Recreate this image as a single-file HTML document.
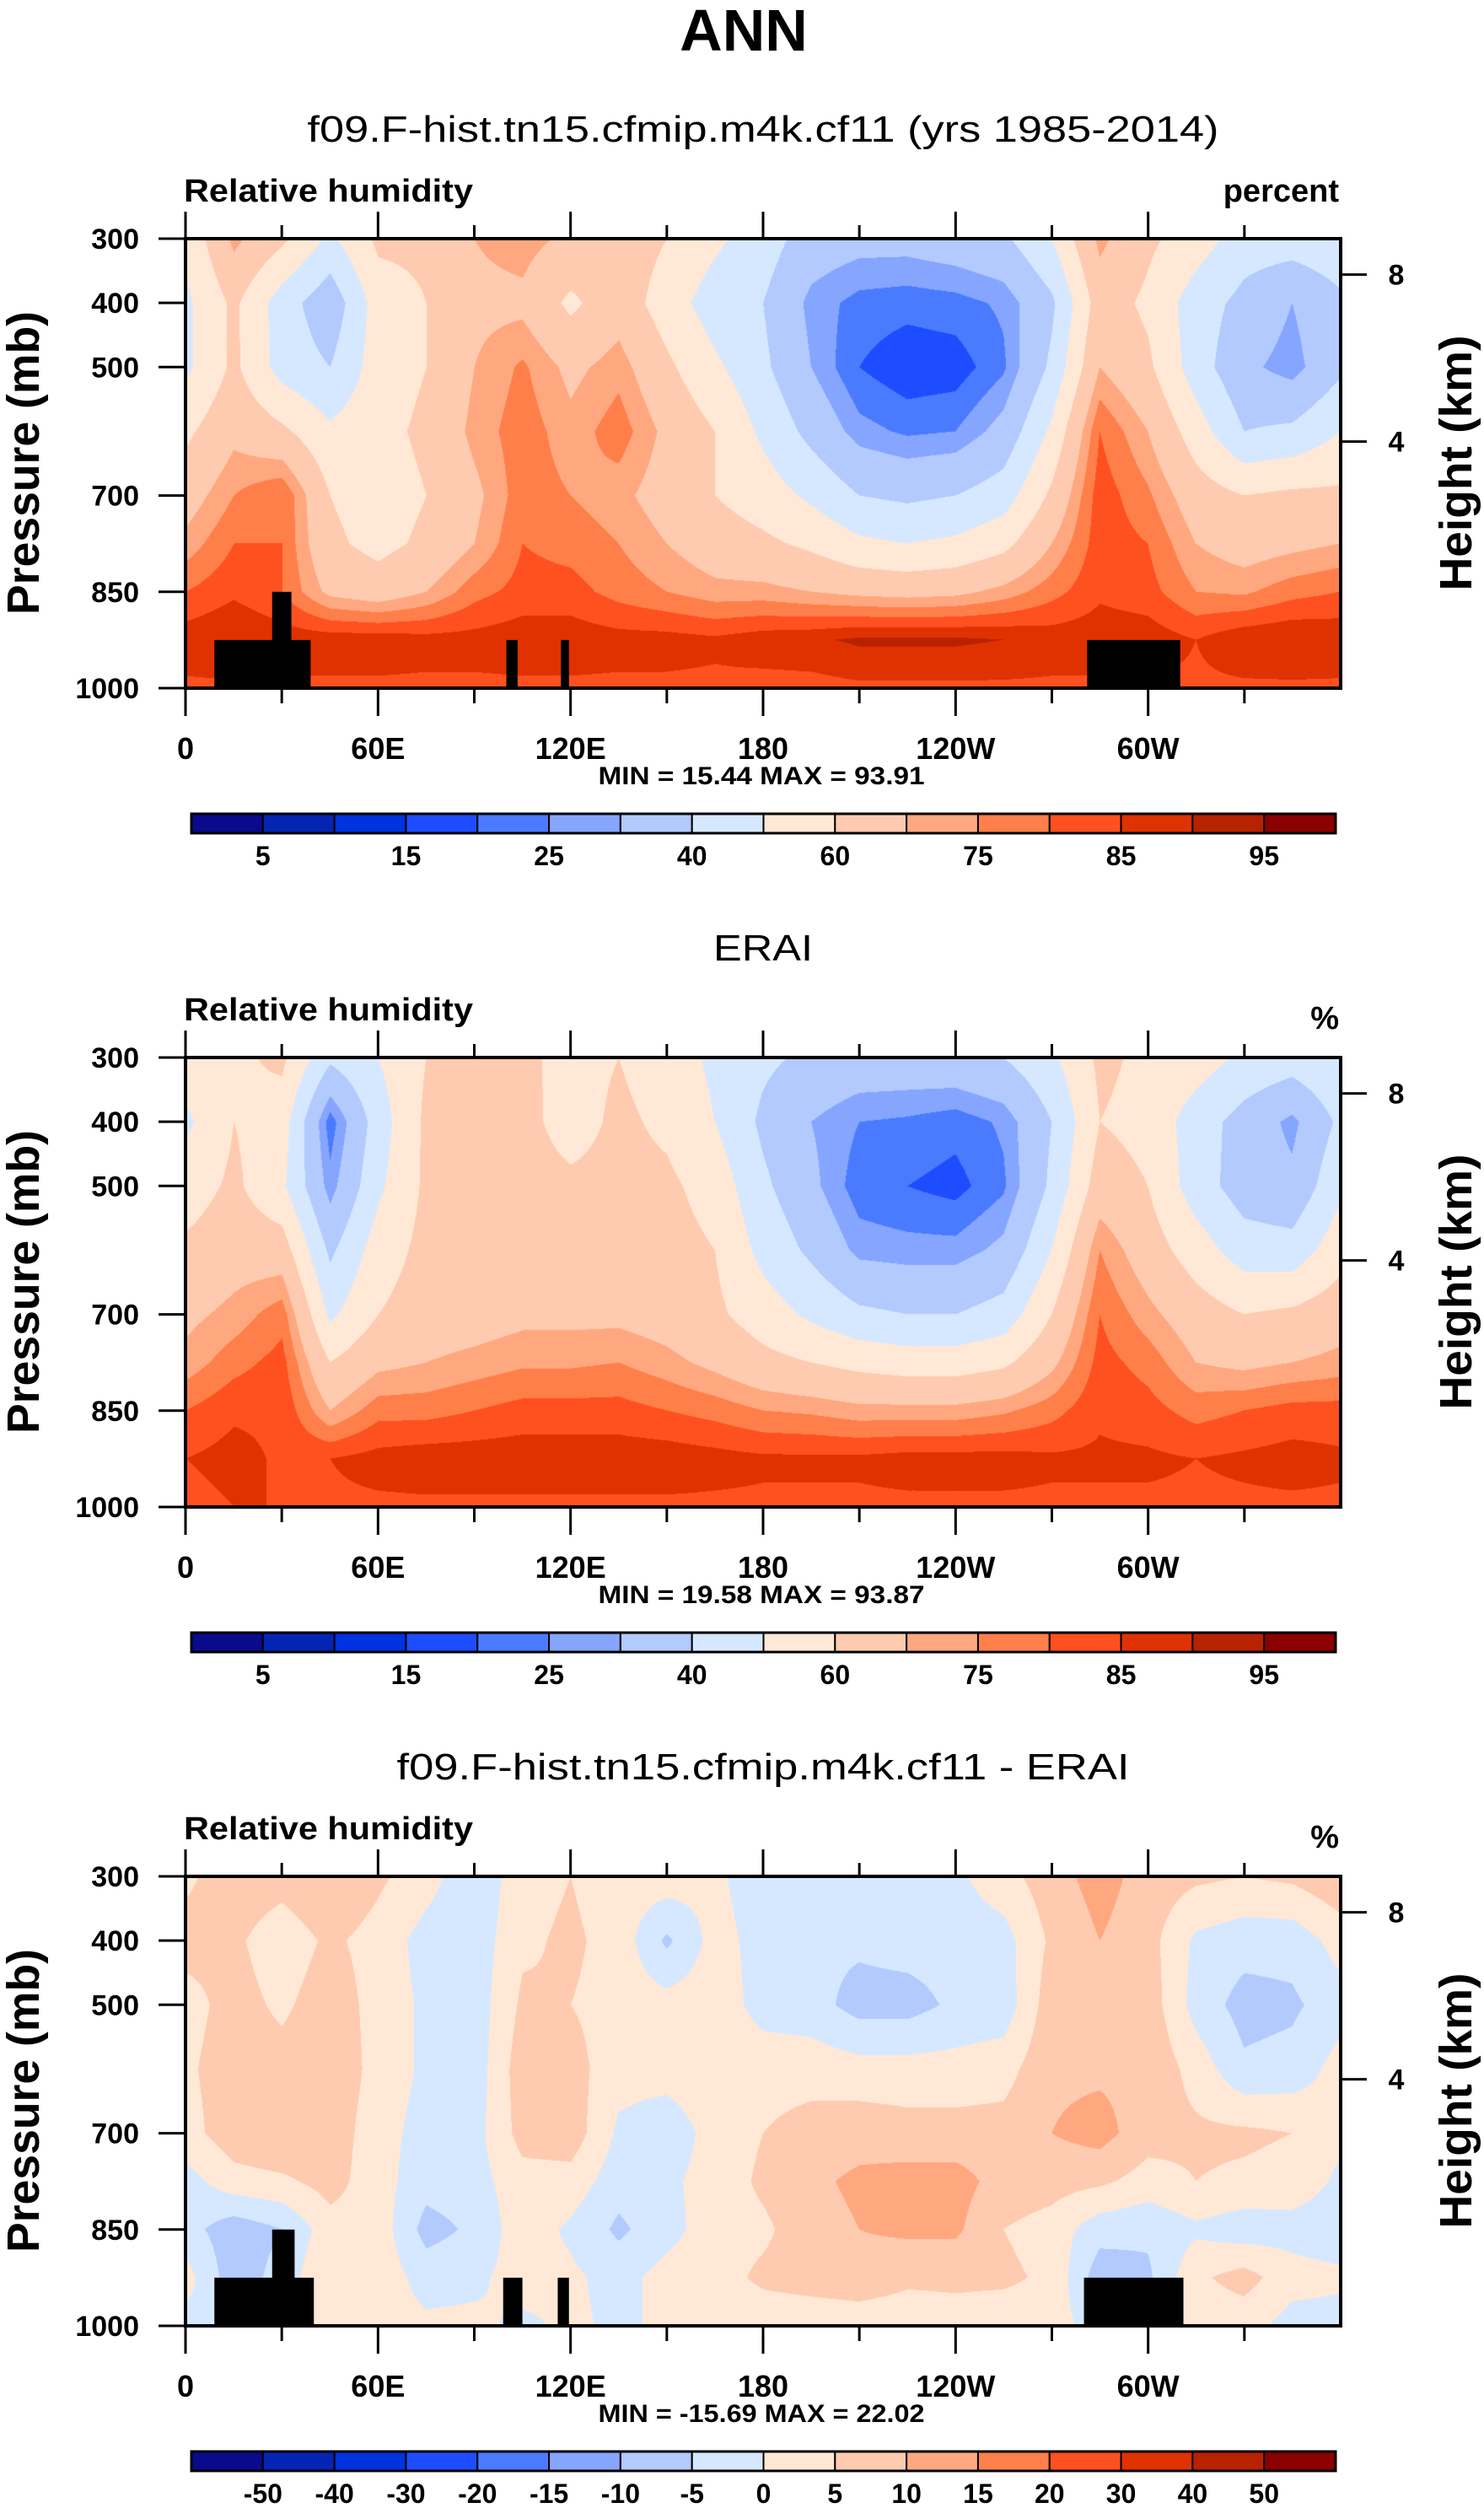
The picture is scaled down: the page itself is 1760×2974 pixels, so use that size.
<!DOCTYPE html>
<html><head><meta charset="utf-8"><style>
html,body{margin:0;padding:0;background:#fff;}
#wrap{position:relative;width:1760px;height:2974px;overflow:hidden;background:#fff;}
canvas{position:absolute;}
svg{position:absolute;left:0;top:0;}
text{font-family:"Liberation Sans",sans-serif;fill:#000;}
</style></head><body>
<div id="wrap">
<canvas id="c0" width="1370" height="533" style="left:220px;top:283px"></canvas>
<canvas id="c1" width="1370" height="533" style="left:220px;top:1254px"></canvas>
<canvas id="c2" width="1370" height="533" style="left:220px;top:2225px"></canvas>
<svg id="s" width="1760" height="2974"></svg>
</div>
<script>
// ---- data ----
const lons = [0,15,30,45,60,75,90,105,120,135,150,165,180,195,210,225,240,255,270,285,300,315,330,345,360];
const levels = [300,400,500,600,700,775,850,925,1000];
const lonTicks = [0,60,120,180,240,300];
const lonTickLabels = ["0","60E","120E","180","120W","60W"];
const presTicks = [300,400,500,700,850,1000];
const heightTicks = [{p:356,lab:"8"},{p:616,lab:"4"}];
const rhLevels = [5,10,15,20,25,30,40,50,60,70,75,80,85,90,95];
const rhLabels = ["5","15","25","40","60","75","85","95"];
const diffLevels = [-50,-40,-30,-20,-15,-10,-5,0,5,10,15,20,30,40,50];
const diffLabels = ["-50","-40","-30","-20","-15","-10","-5","0","5","10","15","20","30","40","50"];
const colors = ["#0a0a8c","#0424b4","#0032e0","#1e4dff","#4a7bff","#85a5ff","#b3caff","#d6e8ff","#ffe9d6","#ffcbb0","#ffa880","#ff7f4a","#ff5020","#e03200","#b82200","#8b0000"];
// values per lon column: [300,400,500,600,700,775,850,925,1000]
const modelRH = [
[52,48,48,58,66,72,80,88,84],[72,62,62,68,75,80,84,90,84],[62,45,46,62,80,80,80,88,84],[48,33,40,52,60,62,68,88,84],
[62,55,55,57,55,57,65,88,84],[62,60,60,62,60,62,70,87,84],[70,68,70,72,68,70,78,87,84],[73,68,76,78,78,80,82,88,84],
[68,58,68,72,75,78,82,88,84],[66,66,73,78,72,75,78,87,84],[60,55,62,68,66,70,75,87,84],[52,45,52,60,60,65,72,86,84],
[45,40,42,48,55,62,72,88,83],[35,28,30,37,48,58,70,89,83],[33,23,20,27,40,52,68,91,84],[33,22,16,24,38,50,67,91,84],
[35,23,17,25,40,52,68,91,84],[38,26,24,33,45,57,72,90,84],[50,38,42,52,62,70,78,88,84],[72,65,70,80,83,83,84,88,84],
[62,58,62,70,76,80,82,88,84],[55,45,45,55,65,70,75,85,84],[45,37,32,40,60,66,74,89,84],[45,30,27,42,62,68,78,90,84],
[47,38,38,50,62,70,80,89,84]];
const eraiRH = [
[55,48,55,62,68,72,80,85,83],[58,60,62,66,72,78,84,87,85],[62,55,52,65,78,82,84,84,85],[42,22,27,38,48,60,70,85,84],
[50,45,48,55,60,68,78,87,84],[60,62,62,63,65,70,78,88,84],[62,63,64,65,66,72,80,88,84],[62,63,64,66,68,74,82,88,84],
[57,56,62,65,68,74,82,88,84],[60,62,63,65,68,75,82,88,84],[55,58,62,64,66,72,80,88,84],[48,50,56,60,62,68,78,87,84],
[42,38,42,47,55,63,75,86,84],[38,30,32,38,48,60,74,86,84],[36,25,22,28,42,57,72,86,84],[36,24,20,27,40,55,72,87,84],
[37,22,18,27,40,55,72,87,84],[40,26,24,32,44,58,74,87,84],[48,40,42,50,60,68,78,86,84],[62,60,65,75,80,82,84,86,84],
[58,57,60,65,72,78,82,86,84],[55,45,45,55,65,70,78,85,84],[48,36,35,45,60,68,80,86,84],[45,28,32,44,62,70,82,87,84],
[50,42,48,56,66,72,82,86,84]];
const diffRH = [
[4,7,3,4,3,-2,-3,2,-2],[8,6,7,8,8,3,-8,-8,2],[7,2,4,7,10,4,-5,-3,2],[10,6,8,9,8,7,3,5,2],
[6,3,3,3,2,2,3,3,2],[2,-2,-1,-1,-2,-3,-7,-2,1],[-4,-3,-3,-3,-2,-2,-4,-1,1],[3,4,6,8,7,3,3,2,-1],
[5,6,5,7,8,3,-1,1,1],[2,3,3,2,-1,-3,-6,-2,-1],[3,-6,2,2,-3,-1,-2,2,1],[1,2,3,3,2,2,3,3,2],
[-3,-2,-2,3,5,6,4,6,2],[-2,-4,-3,3,7,9,8,7,2],[-3,-4,-7,2,8,11,10,8,2],[-2,-3,-7,2,7,12,11,6,2],
[-1,-3,-4,2,7,12,11,6,3],[3,-2,-3,3,7,8,5,6,2],[8,6,8,9,10,7,3,4,2],[12,10,8,9,12,6,-3,-8,-2],
[8,7,8,9,7,3,-4,-6,-2],[6,-1,-2,3,6,5,-1,4,2],[5,-3,-7,-4,6,4,-3,7,2],[6,-3,-6,-3,5,3,-2,2,-2],
[9,2,-2,2,1,-1,-3,1,-2]];
// topography masks: [lonStart, lonEnd, pressureTop]
const maskModel = [[9,39,925],[27,33,850],[100,103.5,925],[117,119.5,925],[281,310,925]];
const maskDiff = [[9,40,925],[27,34,850],[99,105,925],[116,119.5,925],[280,311,925]];
const maskErai = [];

// ---- layout ----
const PX=220, PW=1370, PH=533;
const tops=[283,1254,2225];
const xOf = lon => PX + lon/360*PW;
const yOf = (p,top) => top + (p-300)/700*PH;

function hexRGB(h){return [parseInt(h.substr(1,2),16),parseInt(h.substr(3,2),16),parseInt(h.substr(5,2),16)];}
const rgb = colors.map(hexRGB);
function classify(v,lv){let i=0;while(i<lv.length&&v>=lv[i])i++;return i;}

function drawField(id,data,lv){
  const cv=document.getElementById(id),ctx=cv.getContext('2d');
  const img=ctx.createImageData(PW,PH);
  for(let y=0;y<PH;y++){
    const p=300+y/(PH-1)*700;
    let k=0;while(k<levels.length-2&&p>levels[k+1])k++;
    const tp=(p-levels[k])/(levels[k+1]-levels[k]);
    for(let x=0;x<PW;x++){
      const lon=x/(PW-1)*360;
      let j=Math.min(Math.floor(lon/15),lons.length-2);
      const tl=(lon-lons[j])/15;
      const a=data[j][k]*(1-tp)+data[j][k+1]*tp;
      const b=data[j+1][k]*(1-tp)+data[j+1][k+1]*tp;
      const v=a*(1-tl)+b*tl;
      const c=rgb[classify(v,lv)];
      const o=(y*PW+x)*4;
      img.data[o]=c[0];img.data[o+1]=c[1];img.data[o+2]=c[2];img.data[o+3]=255;
    }
  }
  ctx.putImageData(img,0,0);
}
drawField('c0',modelRH,rhLevels);
drawField('c1',eraiRH,rhLevels);
drawField('c2',diffRH,diffLevels);

const NS="http://www.w3.org/2000/svg";
const svg=document.getElementById('s');
function el(tag,attrs,parent){const e=document.createElementNS(NS,tag);for(const k in attrs)e.setAttribute(k,attrs[k]);(parent||svg).appendChild(e);return e;}
function txt(s,attrs,parent){const e=el('text',attrs,parent);e.textContent=s;return e;}

const ann=txt("ANN",{x:882,y:60,'font-size':70,'font-weight':'bold','text-anchor':'middle'});



const titles=["f09.F-hist.tn15.cfmip.m4k.cf11 (yrs 1985-2014)","ERAI","f09.F-hist.tn15.cfmip.m4k.cf11 - ERAI"];
const titleW=[1081,118,869];
const units=["percent","%","%"];
const masks=[maskModel,maskErai,maskDiff];
const minmax=["MIN =  15.44  MAX =  93.91","MIN =  19.58  MAX =  93.87","MIN = -15.69  MAX =  22.02"];
const cbLevels=[rhLevels,rhLevels,diffLevels];
const cbLabels=[rhLabels,rhLabels,diffLabels];

for(let i=0;i<3;i++){
  const top=tops[i], off=top-283;
  const g=el('g',{});
  
  
  const t=txt(titles[i],{x:905,y:168+off,'font-size':44,'text-anchor':'middle',textLength:titleW[i],lengthAdjust:'spacingAndGlyphs'},g);
  
  
  const lt=txt("Relative humidity",{x:218,y:239+off,'font-size':38,'font-weight':'bold',textLength:343,lengthAdjust:'spacingAndGlyphs'},g);
  
  
  const ut=txt(units[i],{x:1588,y:(i==0?239:1220-971)+off,'font-size':38,'font-weight':'bold','text-anchor':'end'},g);
  
  
  masks[i].forEach(m=>{
    const r=el('rect',{x:xOf(m[0]),y:yOf(m[2],top),width:xOf(m[1])-xOf(m[0]),height:yOf(1000,top)-yOf(m[2],top),fill:'#000'},g);
    
    
  });
  const fr=el('rect',{x:PX,y:top,width:PW,height:PH,fill:'none',stroke:'#000','stroke-width':4},g);
  
  
  for(let lon=0;lon<=330;lon+=30){
    const major=lon%60===0, x=xOf(lon);
    el('line',{x1:x,x2:x,y1:top,y2:top-(major?32:16),stroke:'#000','stroke-width':3},g);
    el('line',{x1:x,x2:x,y1:top+PH,y2:top+PH+(major?33:18),stroke:'#000','stroke-width':3},g);
  }
  lonTicks.forEach((lon,k)=>{
    const l=txt(lonTickLabels[k],{x:xOf(lon),y:900+off,'font-size':36,'font-weight':'bold','text-anchor':'middle'},g);
    
    
  });
  presTicks.forEach(p=>{
    const y=yOf(p,top);
    el('line',{x1:PX-32,x2:PX,y1:y,y2:y,stroke:'#000','stroke-width':3},g);
    const l=txt(String(p),{x:165,y:y+12,'font-size':34,'font-weight':'bold','text-anchor':'end'},g);
    
    
  });
  heightTicks.forEach(h=>{
    const y=yOf(h.p,top);
    el('line',{x1:PX+PW,x2:PX+PW+31,y1:y,y2:y,stroke:'#000','stroke-width':3},g);
    const l=txt(h.lab,{x:1656,y:y+12,'font-size':34,'font-weight':'bold','text-anchor':'middle'},g);
    
    
  });
  const ya=txt("Pressure (mb)",{x:0,y:0,'font-size':54,'font-weight':'bold','text-anchor':'middle',transform:`translate(46,${549+off}) rotate(-90)`,textLength:360,lengthAdjust:'spacingAndGlyphs'},g);
  
  
  const ha=txt("Height (km)",{x:0,y:0,'font-size':54,'font-weight':'bold','text-anchor':'middle',transform:`translate(1745,${549+off}) rotate(-90)`,textLength:303,lengthAdjust:'spacingAndGlyphs'},g);
  
  
  const mm=txt(minmax[i],{x:903,y:930+off,'font-size':30,'font-weight':'bold','text-anchor':'middle',textLength:387,lengthAdjust:'spacingAndGlyphs'},g);
  
  
  const cb=el('g',{},g);
  
  
  const cx0=227,cx1=1584,cy=965+off,ch=23,bw=(cx1-cx0)/16;
  colors.forEach((c,k)=>{
    const r=el('rect',{x:cx0+k*bw,y:cy,width:bw,height:ch,fill:c,stroke:'#000','stroke-width':2},cb);
    
    
  });
  el('rect',{x:cx0,y:cy,width:cx1-cx0,height:ch,fill:'none',stroke:'#000','stroke-width':3},cb);
  const labs=cbLabels[i], lv=cbLevels[i];
  labs.forEach(s=>{
    const idx=lv.indexOf(Number(s));
    const l=txt(s,{x:cx0+(idx+1)*bw,y:1026+off,'font-size':32,'font-weight':'bold','text-anchor':'middle'},cb);
    
    
  });
}
</script>
</body></html>
